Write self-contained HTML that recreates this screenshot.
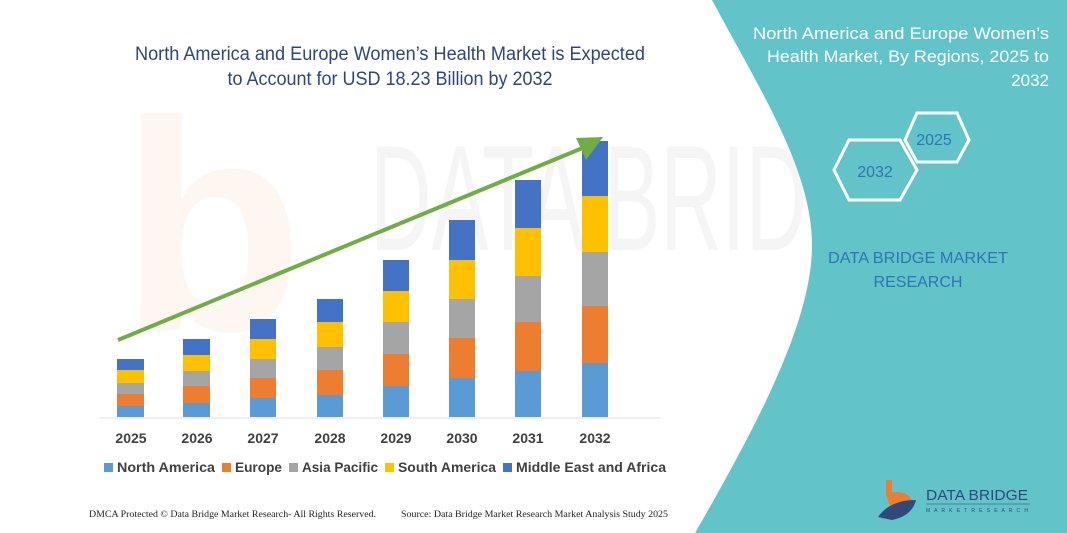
<!DOCTYPE html>
<html><head><meta charset="utf-8"><style>
html,body{margin:0;padding:0;background:#fff;}
svg{display:block;font-family:"Liberation Sans",sans-serif;}
</style></head><body>
<svg width="1067" height="533" viewBox="0 0 1067 533" xmlns="http://www.w3.org/2000/svg">
<rect width="1067" height="533" fill="#fff"/>
<text x="370" y="250" font-size="150" fill="#f5f5f5" textLength="560" lengthAdjust="spacingAndGlyphs">DATA BRIDGE</text>
<text x="120" y="330" font-size="300" fill="#fef6f1" font-weight="bold">b</text>
<path d="M712,0 L1067,0 L1067,533 L695,533 C760,420 812,320 812,245 C812,170 760,90 712,0 Z" fill="#62C3C9"/>
<g fill="#2E4679" font-size="19">
<text x="390" y="60" text-anchor="middle" textLength="510" lengthAdjust="spacingAndGlyphs">North America and Europe Women’s Health Market is Expected</text>
<text x="390" y="85" text-anchor="middle" textLength="325" lengthAdjust="spacingAndGlyphs">to Account for USD 18.23 Billion by 2032</text>
</g>
<g>
<rect x="117" y="406" width="27" height="11" fill="#5B9BD5"/><rect x="117" y="394" width="27" height="12" fill="#ED7D31"/><rect x="117" y="383" width="27" height="11" fill="#A5A5A5"/><rect x="117" y="370" width="27" height="13" fill="#FFC000"/><rect x="117" y="359" width="27" height="11" fill="#4472C4"/>
<rect x="183" y="403" width="27" height="14" fill="#5B9BD5"/><rect x="183" y="386" width="27" height="17" fill="#ED7D31"/><rect x="183" y="371" width="27" height="15" fill="#A5A5A5"/><rect x="183" y="355" width="27" height="16" fill="#FFC000"/><rect x="183" y="339" width="27" height="16" fill="#4472C4"/>
<rect x="250" y="398" width="26" height="19" fill="#5B9BD5"/><rect x="250" y="378" width="26" height="20" fill="#ED7D31"/><rect x="250" y="359" width="26" height="19" fill="#A5A5A5"/><rect x="250" y="339" width="26" height="20" fill="#FFC000"/><rect x="250" y="319" width="26" height="20" fill="#4472C4"/>
<rect x="317" y="395" width="26" height="22" fill="#5B9BD5"/><rect x="317" y="370" width="26" height="25" fill="#ED7D31"/><rect x="317" y="347" width="26" height="23" fill="#A5A5A5"/><rect x="317" y="322" width="26" height="25" fill="#FFC000"/><rect x="317" y="299" width="26" height="23" fill="#4472C4"/>
<rect x="383" y="386" width="26" height="31" fill="#5B9BD5"/><rect x="383" y="354" width="26" height="32" fill="#ED7D31"/><rect x="383" y="322" width="26" height="32" fill="#A5A5A5"/><rect x="383" y="291" width="26" height="31" fill="#FFC000"/><rect x="383" y="260" width="26" height="31" fill="#4472C4"/>
<rect x="449" y="378" width="26" height="39" fill="#5B9BD5"/><rect x="449" y="338" width="26" height="40" fill="#ED7D31"/><rect x="449" y="299" width="26" height="39" fill="#A5A5A5"/><rect x="449" y="260" width="26" height="39" fill="#FFC000"/><rect x="449" y="220" width="26" height="40" fill="#4472C4"/>
<rect x="515" y="371" width="26" height="46" fill="#5B9BD5"/><rect x="515" y="322" width="26" height="49" fill="#ED7D31"/><rect x="515" y="276" width="26" height="46" fill="#A5A5A5"/><rect x="515" y="228" width="26" height="48" fill="#FFC000"/><rect x="515" y="180" width="26" height="48" fill="#4472C4"/>
<rect x="582" y="363" width="26" height="54" fill="#5B9BD5"/><rect x="582" y="306" width="26" height="57" fill="#ED7D31"/><rect x="582" y="252" width="26" height="54" fill="#A5A5A5"/><rect x="582" y="196" width="26" height="56" fill="#FFC000"/><rect x="582" y="141" width="26" height="55" fill="#4472C4"/>
</g>
<line x1="100" y1="418" x2="660" y2="418" stroke="#e2e2e2" stroke-width="1"/>
<line x1="118" y1="340" x2="585" y2="147" stroke="#70AD47" stroke-width="4"/>
<polygon points="603,137 576,138 586,160" fill="#70AD47"/>
<g font-size="14" font-weight="bold" fill="#404040" text-anchor="middle">
<text x="131" y="443">2025</text><text x="197" y="443">2026</text><text x="263" y="443">2027</text><text x="330" y="443">2028</text><text x="396" y="443">2029</text><text x="462" y="443">2030</text><text x="528" y="443">2031</text><text x="595" y="443">2032</text>
</g>
<g font-size="14" font-weight="bold" fill="#404040">
<rect x="104" y="463" width="9" height="9" fill="#5B9BD5"/><text x="117" y="472" textLength="98" lengthAdjust="spacingAndGlyphs">North America</text>
<rect x="222" y="463" width="9" height="9" fill="#ED7D31"/><text x="235" y="472" textLength="47" lengthAdjust="spacingAndGlyphs">Europe</text>
<rect x="289" y="463" width="9" height="9" fill="#A5A5A5"/><text x="302" y="472" textLength="76" lengthAdjust="spacingAndGlyphs">Asia Pacific</text>
<rect x="385" y="463" width="9" height="9" fill="#FFC000"/><text x="398" y="472" textLength="98" lengthAdjust="spacingAndGlyphs">South America</text>
<rect x="503" y="463" width="9" height="9" fill="#4472C4"/><text x="516" y="472" textLength="150" lengthAdjust="spacingAndGlyphs">Middle East and Africa</text>
</g>
<g font-family="Liberation Serif,serif" font-size="9" fill="#222">
<text x="89" y="517" textLength="287" lengthAdjust="spacingAndGlyphs">DMCA Protected © Data Bridge Market Research-  All Rights Reserved.</text>
<text x="401" y="517" textLength="267" lengthAdjust="spacingAndGlyphs">Source: Data Bridge Market Research  Market Analysis Study 2025</text>
</g>
<g fill="#fff" font-size="17" text-anchor="end">
<text x="1049" y="39" textLength="296" lengthAdjust="spacingAndGlyphs">North America and Europe Women’s</text>
<text x="1049" y="62" textLength="282" lengthAdjust="spacingAndGlyphs">Health Market, By Regions, 2025 to</text>
<text x="1049" y="86">2032</text>
</g>
<polygon points="905,140 917,113 957,113 969,140 957,162 917,162" fill="none" stroke="#fff" stroke-width="3"/>
<polygon points="834,170 849,140 900,140 917,170 900,200 849,200" fill="none" stroke="#fff" stroke-width="3"/>
<text x="934" y="145" font-size="16" fill="#2E75B6" text-anchor="middle">2025</text>
<text x="875" y="177" font-size="16" fill="#2E75B6" text-anchor="middle">2032</text>
<g fill="#2E75B6" font-size="16" text-anchor="middle">
<text x="918" y="263" textLength="180" lengthAdjust="spacingAndGlyphs">DATA BRIDGE MARKET</text>
<text x="918" y="287">RESEARCH</text>
</g>
<rect x="886" y="480" width="6" height="16" fill="#ED7D31"/>
<path d="M886,494 Q905,488 912,500 Q905,506 890,506 Z" fill="#ED7D31"/>
<path d="M878,517 Q890,500 916,500 Q912,516 892,520 Z" fill="#2F4A7A"/>
<text x="926" y="500" font-size="15" fill="#2F4A7A" textLength="102" lengthAdjust="spacingAndGlyphs">DATA BRIDGE</text>
<line x1="926" y1="504" x2="1030" y2="504" stroke="#2F4A7A" stroke-width="0.6"/>
<text x="926" y="512" font-size="5" fill="#2F4A7A" textLength="102" lengthAdjust="spacing">M A R K E T   R E S E A R C H</text>
</svg>
</body></html>
